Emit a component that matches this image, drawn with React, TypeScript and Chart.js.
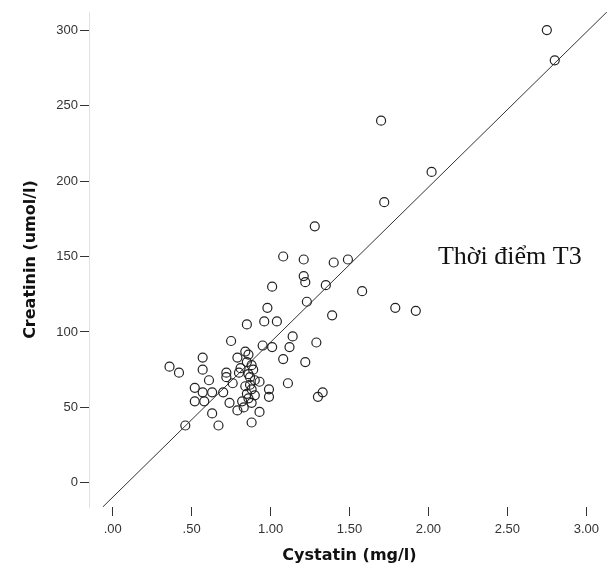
import React, { useEffect, useRef } from "react";
import { Chart, registerables } from "chart.js";

Chart.register(...registerables);

// Cystatin (mg/l) values of each patient
const cystatin = [
  2.75, 2.80, 1.70, 2.02, 1.72, 1.28,
  1.08, 1.21, 1.40, 1.49,
  1.21, 1.22, 1.01, 1.35, 1.58,
  1.23, 1.79, 1.92, 0.98, 1.39,
  0.96, 1.04, 0.85, 1.14, 1.12, 1.29,
  0.95, 1.01, 0.75, 1.08, 1.22, 0.84, 0.79, 0.85,
  0.57, 0.57, 0.36, 0.42,
  1.11, 0.99, 0.99, 1.30, 1.33,
  0.93, 0.93, 0.88, 0.67, 0.46, 0.63, 0.79,
  0.52, 0.57, 0.52, 0.58, 0.63, 0.70, 0.74, 0.82, 0.72, 0.61, 0.76, 0.80,
  0.87, 0.87, 0.85, 0.88, 0.72,
  0.86, 0.88, 0.89, 0.86, 0.90, 0.88, 0.84, 0.81, 0.90, 0.86, 0.83,
];

// Creatinin (umol/l) values of each patient
const creatinin = [
  300, 280, 240, 206, 186, 170,
  150, 148, 146, 148,
  137, 133, 130, 131, 127,
  120, 116, 114, 116, 111,
  107, 107, 105, 97, 90, 93,
  91, 90, 94, 82, 80, 87, 83, 80,
  83, 75, 77, 73,
  66, 62, 57, 57, 60,
  67, 47, 40, 38, 38, 46, 48,
  63, 60, 54, 54, 60, 60, 53, 54, 70, 68, 66, 73,
  70, 65, 59, 53, 73,
  85, 78, 75, 72, 68, 62, 64, 76, 58, 56, 50,
];

// Fit line end points (read at the plot edges)
const fitX = [-0.063, 3.13];
const fitY = [-16, 312];

const xTickValues = [0, 0.5, 1, 1.5, 2, 2.5, 3];
const xTickLabels = [".00", ".50", "1.00", "1.50", "2.00", "2.50", "3.00"];
const yTickValues = [0, 50, 100, 150, 200, 250, 300];
const yTickLabels = ["0", "50", "100", "150", "200", "250", "300"];

const xTitle = "Cystatin (mg/l)";
const yTitle = "Creatinin (umol/l)";
const annotationText = "Thời điểm T3";
const annotationAt = { x: 2.06, y: 145 };

export default function App() {
  const canvasRef = useRef<HTMLCanvasElement | null>(null);

  useEffect(() => {
    const canvas = canvasRef.current;
    if (!canvas) return;

    const annotationPlugin = {
      id: "annotationText",
      afterDatasetsDraw(chart: any) {
        const { ctx, scales } = chart;
        const px = scales.x.getPixelForValue(annotationAt.x);
        const py = scales.y.getPixelForValue(annotationAt.y);
        ctx.save();
        ctx.font = "26px 'Liberation Serif', 'DejaVu Serif', serif";
        ctx.fillStyle = "#111";
        ctx.textAlign = "left";
        ctx.textBaseline = "alphabetic";
        ctx.fillText(annotationText, px, py);
        ctx.restore();
      },
    };

    const tickFont = { family: "'Liberation Sans', Arial, sans-serif", size: 13 };
    const titleFont = { family: "'DejaVu Sans', sans-serif", size: 16, weight: "bold" as const };

    const chart = new Chart(canvas, {
      type: "scatter",
      data: {
        datasets: [
          {
            type: "line",
            data: fitX.map((x, i) => ({ x, y: fitY[i] })),
            borderColor: "#333",
            borderWidth: 1,
            pointRadius: 0,
            fill: false,
            order: 2,
          } as any,
          {
            type: "scatter",
            data: cystatin.map((x, i) => ({ x, y: creatinin[i] })),
            pointStyle: "circle",
            pointRadius: 4.5,
            pointBorderWidth: 1.2,
            borderColor: "#222",
            backgroundColor: "rgba(0,0,0,0)",
            order: 1,
          },
        ],
      },
      options: {
        animation: false,
        responsive: false,
        layout: { padding: { top: 12, right: 6, left: 0, bottom: 0 } },
        plugins: {
          legend: { display: false },
          tooltip: { enabled: false },
        },
        scales: {
          x: {
            type: "linear",
            min: -0.15,
            max: 3.15,
            afterBuildTicks: (scale: any) => {
              scale.ticks = xTickValues.map((v) => ({ value: v }));
            },
            afterFit: (scale: any) => {
              scale.height = 71;
            },
            ticks: {
              autoSkip: false,
              maxRotation: 0,
              padding: 6,
              color: "#333",
              font: tickFont,
              callback: (value: any) => {
                const i = xTickValues.indexOf(Number(value));
                return i >= 0 ? xTickLabels[i] : "";
              },
            },
            grid: {
              drawOnChartArea: false,
              drawTicks: true,
              tickLength: 9,
              tickColor: "#333",
              tickWidth: 1,
            },
            border: { display: false },
            title: {
              display: true,
              text: xTitle,
              color: "#111",
              font: titleFont,
              padding: { top: 0, bottom: 13 },
            },
          },
          y: {
            type: "linear",
            min: -16,
            max: 312,
            afterBuildTicks: (scale: any) => {
              scale.ticks = yTickValues.map((v) => ({ value: v }));
            },
            afterFit: (scale: any) => {
              scale.width = 89;
            },
            ticks: {
              autoSkip: false,
              padding: 2,
              color: "#333",
              font: tickFont,
              callback: (value: any) => {
                const i = yTickValues.indexOf(Number(value));
                return i >= 0 ? yTickLabels[i] : "";
              },
            },
            grid: {
              drawOnChartArea: false,
              drawTicks: true,
              tickLength: 9,
              tickColor: "#333",
              tickWidth: 1,
            },
            border: { display: true, color: "#e2e2e2", width: 1 },
            title: {
              display: true,
              text: yTitle,
              color: "#111",
              font: titleFont,
              padding: { top: 21, bottom: 0 },
            },
          },
        },
      },
      plugins: [annotationPlugin],
    });

    return () => {
      chart.destroy();
    };
  }, []);

  return (
    <div style={{ position: "fixed", left: 0, top: 0, width: 616, height: 578, background: "#fff" }}>
      <canvas ref={canvasRef} width={616} height={578} style={{ width: 616, height: 578 }} />
    </div>
  );
}
